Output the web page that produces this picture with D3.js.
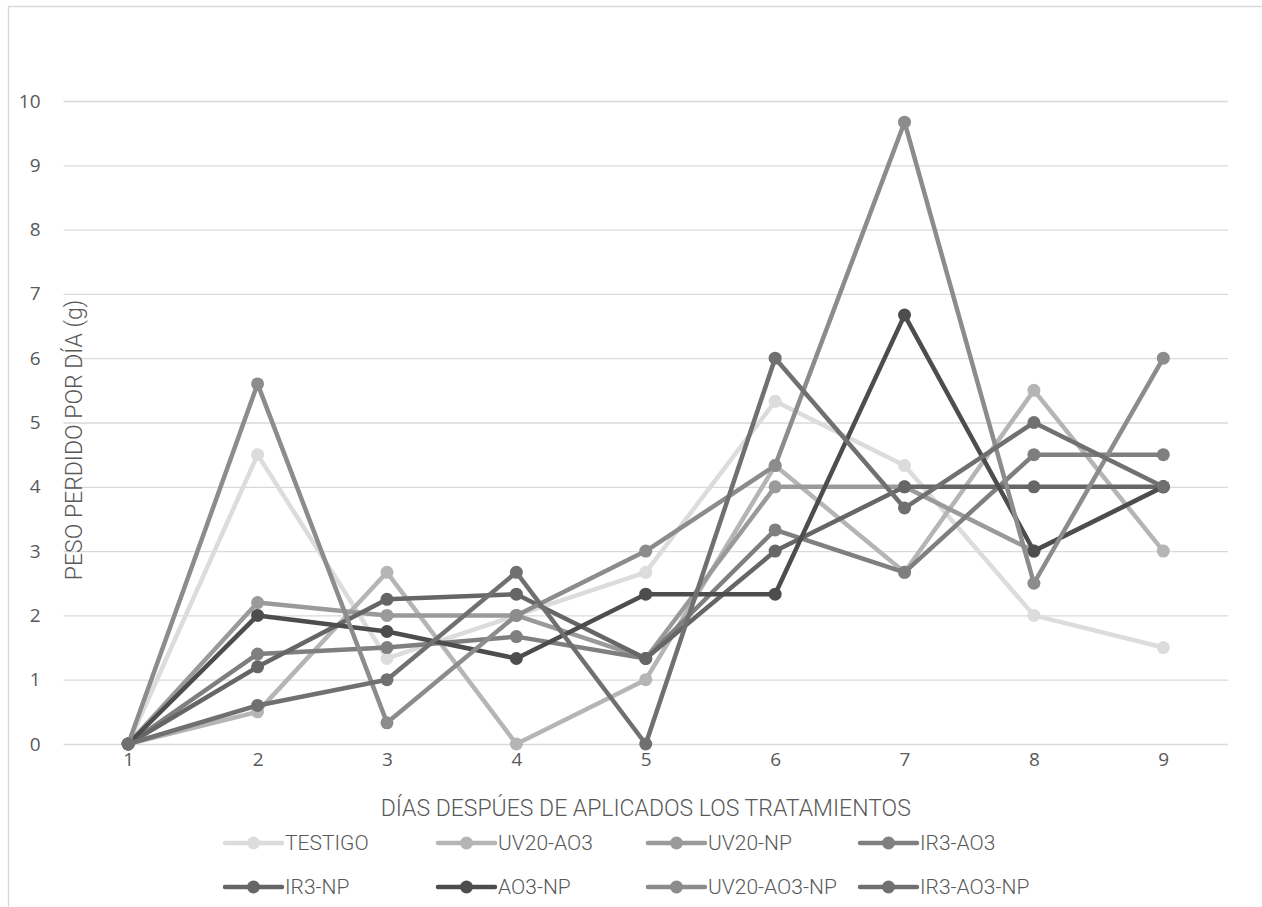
<!DOCTYPE html>
<html>
<head>
<meta charset="utf-8">
<script src="https://cdn.jsdelivr.net/npm/d3@7"></script>
<style>
  html, body { margin: 0; padding: 0; background: #ffffff; }
  svg text { font-family: "Open Sans", "DejaVu Sans", sans-serif; fill: #595959; }
</style>
</head>
<body>
<svg id="chart" width="1262" height="907"></svg>
<script>
// Days after treatment application
const days = [1, 2, 3, 4, 5, 6, 7, 8, 9];
const yTicks = [0, 1, 2, 3, 4, 5, 6, 7, 8, 9, 10];

// Weight lost per day (g) for each treatment
const testigo    = [0, 4.5, 1.33, 2.0, 2.67, 5.33, 4.33, 2.0, 1.5];
const uv20Ao3    = [0, 0.5, 2.67, 0, 1.0, 4.33, 2.67, 5.5, 3.0];
const uv20Np     = [0, 2.2, 2.0, 2.0, 1.33, 4.0, 4.0, 3.0, 4.0];
const ir3Ao3     = [0, 1.4, 1.5, 1.67, 1.33, 3.33, 2.67, 4.5, 4.5];
const ir3Np      = [0, 1.2, 2.25, 2.33, 1.33, 3.0, 4.0, 4.0, 4.0];
const ao3Np      = [0, 2.0, 1.75, 1.33, 2.33, 2.33, 6.67, 3.0, 4.0];
const uv20Ao3Np  = [0, 5.6, 0.33, 2.0, 3.0, 4.33, 9.67, 2.5, 6.0];
const ir3Ao3Np   = [0, 0.6, 1.0, 2.67, 0, 6.0, 3.67, 5.0, 4.0];

const seriesNames  = ["TESTIGO", "UV20-AO3", "UV20-NP", "IR3-AO3", "IR3-NP", "AO3-NP", "UV20-AO3-NP", "IR3-AO3-NP"];
const seriesValues = [testigo, uv20Ao3, uv20Np, ir3Ao3, ir3Np, ao3Np, uv20Ao3Np, ir3Ao3Np];
const seriesColors = ["#dcdcdc", "#b5b5b5", "#9a9a9a", "#7f7f7f", "#666666", "#4d4d4d", "#8c8c8c", "#707070"];

const series = seriesNames.map((name, i) => ({
  name,
  color: seriesColors[i],
  points: days.map((d, j) => ({ day: d, value: seriesValues[i][j] }))
}));

const svg = d3.select("#chart");

// Chart frame (top and left edges visible)
svg.append("line").attr("x1", 8).attr("x2", 1262).attr("y1", 6.5).attr("y2", 6.5)
  .attr("stroke", "#d9d9d9").attr("stroke-width", 1.3);
svg.append("line").attr("x1", 8.5).attr("x2", 8.5).attr("y1", 6).attr("y2", 907)
  .attr("stroke", "#d9d9d9").attr("stroke-width", 1.3);

const plot = { left: 63.5, right: 1228, top: 101, bottom: 744 };

const x = d3.scalePoint().domain(days).range([plot.left, plot.right]).padding(0.5);
const y = d3.scaleLinear().domain([0, 10]).range([plot.bottom, plot.top]);

// Horizontal gridlines and value labels
const yAxis = d3.axisLeft(y).tickValues(yTicks).tickSize(-(plot.right - plot.left)).tickPadding(23);
const gy = svg.append("g").attr("transform", `translate(${plot.left},0)`).call(yAxis);
gy.select(".domain").remove();
gy.selectAll(".tick line").attr("stroke", "#d9d9d9").attr("stroke-width", 1.3);
gy.selectAll(".tick text").attr("font-size", 19).style("fill", "#595959")
  .attr("font-family", "'Open Sans', sans-serif");

// Category labels
const xAxis = d3.axisBottom(x).tickSize(0).tickPadding(9);
const gx = svg.append("g").attr("transform", `translate(0,${plot.bottom})`).call(xAxis);
gx.select(".domain").remove();
gx.selectAll(".tick text").attr("font-size", 19).style("fill", "#595959")
  .attr("font-family", "'Open Sans', sans-serif");

// Axis titles
svg.append("text")
  .attr("transform", `translate(82,440) rotate(-90)`)
  .attr("text-anchor", "middle")
  .attr("font-size", 23)
  .style("font-family", "'Roboto', sans-serif").style("font-weight", 300)
  .text("PESO PERDIDO POR DÍA (g)");

svg.append("text")
  .attr("x", (plot.left + plot.right) / 2)
  .attr("y", 816)
  .attr("text-anchor", "middle")
  .attr("font-size", 23)
  .style("font-family", "'Roboto', sans-serif").style("font-weight", 300)
  .text("DÍAS DESPÚES DE APLICADOS LOS TRATAMIENTOS");

// Series lines and markers
const line = d3.line().x(d => x(d.day)).y(d => y(d.value));
const gs = svg.append("g");
series.forEach(s => {
  const g = gs.append("g");
  g.append("path").datum(s.points).attr("d", line)
    .attr("fill", "none").attr("stroke", s.color)
    .attr("stroke-width", 4.5).attr("stroke-linejoin", "round").attr("stroke-linecap", "round");
  g.selectAll("circle").data(s.points).join("circle")
    .attr("cx", d => x(d.day)).attr("cy", d => y(d.value)).attr("r", 6.5)
    .attr("fill", s.color);
});

// Legend: two rows of four
const legendX = [225, 438, 648, 860];
const legendY = [843, 887];
const lg = svg.append("g");
series.forEach((s, i) => {
  const lx = legendX[i % 4], ly = legendY[Math.floor(i / 4)];
  const item = lg.append("g").attr("transform", `translate(${lx},${ly})`);
  item.append("line").attr("x1", 0).attr("x2", 57).attr("y1", 0).attr("y2", 0)
    .attr("stroke", s.color).attr("stroke-width", 4.5).attr("stroke-linecap", "round");
  item.append("circle").attr("cx", 28.5).attr("cy", 0).attr("r", 6.5).attr("fill", s.color);
  item.append("text").attr("x", 60).attr("y", 0).attr("dy", "0.35em")
    .attr("font-size", 21)
    .style("font-family", "'Roboto', sans-serif").style("font-weight", 300)
    .text(s.name);
});
</script>
</body>
</html>
